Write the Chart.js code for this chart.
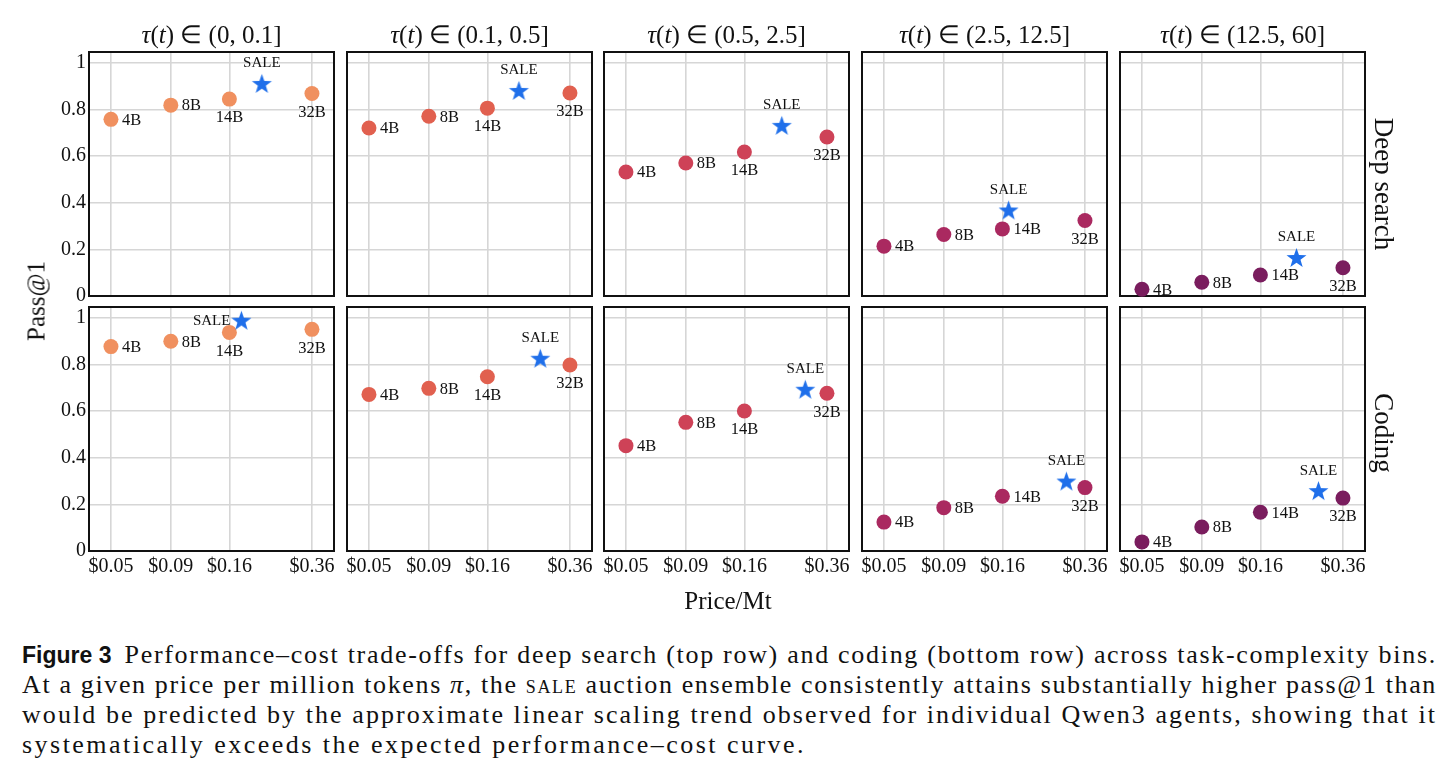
<!DOCTYPE html>
<html>
<head>
<meta charset="utf-8">
<script src="https://cdn.jsdelivr.net/npm/chart.js@4.4.0/dist/chart.umd.min.js"></script>
<style>
  body { margin: 0; background: #fff; width: 1453px; height: 778px; overflow: hidden; position: relative; font-family: "Liberation Serif", serif; color: #111; }
  canvas { position: absolute; }
  .lbl { position: absolute; transform: translate(-50%, -50%); white-space: nowrap; line-height: 1; }
  .title { font-size: 25px; }
  .axis { font-size: 25px; }
  .row { font-size: 27px; }
  #caption { position: absolute; left: 22px; top: 640px; width: 1415px; font-family: "Liberation Serif", serif; font-size: 26px; line-height: 30px; }
  #caption div { white-space: nowrap; }
  #caption b { font-family: "Liberation Sans", sans-serif; font-size: 23px; letter-spacing: 0; margin-right: 13px; }
  .sc { font-variant: small-caps; }
</style>
</head>
<body>
<div id="caption">
  <div data-w="1415"><b>Figure 3</b><span class="line">Performance–cost trade-offs for deep search (top row) and coding (bottom row) across task-complexity bins.</span></div>
  <div data-w="1415"><span class="line">At a given price per million tokens <i>π</i>, the <span class="sc">sale</span> auction ensemble consistently attains substantially higher pass@1 than</span></div>
  <div data-w="1415"><span class="line">would be predicted by the approximate linear scaling trend observed for individual Qwen3 agents, showing that it</span></div>
  <div data-w="784"><span class="line">systematically exceeds the expected performance–cost curve.</span></div>
</div>
<script>
// model prices ($ per million tokens) and names
const prices = [0.05, 0.09, 0.16, 0.36];
const sizes = ['4B', '8B', '14B', '32B'];
const bins = ['(0, 0.1]', '(0.1, 0.5]', '(0.5, 2.5]', '(2.5, 12.5]', '(12.5, 60]'];
const tasks = ['Deep search', 'Coding'];
const yTicks = [0, 0.2, 0.4, 0.6, 0.8, 1];

// pass@1 per complexity bin, one row per bin, one value per model size
const deepSearch = [
  [0.758, 0.819, 0.845, 0.869],
  [0.721, 0.771, 0.806, 0.871],
  [0.532, 0.571, 0.618, 0.682],
  [0.214, 0.264, 0.288, 0.324],
  [0.029, 0.059, 0.090, 0.121]
];
const deepSearchSale = [0.908, 0.878, 0.728, 0.365, 0.161];
const deepSearchSalePrice = [0.22, 0.218, 0.231, 0.17, 0.228];

const coding = [
  [0.877, 0.900, 0.938, 0.951],
  [0.672, 0.698, 0.748, 0.798],
  [0.452, 0.552, 0.601, 0.677],
  [0.124, 0.186, 0.235, 0.272],
  [0.039, 0.103, 0.166, 0.227]
];
const codingSale = [0.986, 0.823, 0.690, 0.296, 0.255];
const codingSalePrice = [0.18, 0.269, 0.291, 0.30, 0.283];

// look
const binColors = ['#F0905F', '#E1604F', '#CE4257', '#AA2960', '#7A1D5E'];
const saleColor = '#1F6FEA';
const gridColor = '#D6D6D6';
const X_MIN = 0.0403, X_MAX = 0.447, Y_MAX = 1.047;

// layout
const colLeft = [89, 347, 604, 862, 1120];
const rowTop = [52, 307];
const PW = 245, PH = 244;
const AX_L = 45, AX_B = 35, PAD_T = 30, PAD_R = 30;

// where each point label sits relative to its marker
const modelSide = [
  ['r', 'r', 'b', 'b'], ['r', 'r', 'b', 'b'], ['r', 'r', 'b', 'b'],
  ['r', 'r', 'r', 'b'], ['r', 'r', 'r', 'b']
];

function starMarker(r, color) {
  const c = document.createElement('canvas');
  const s = Math.ceil(r * 2 + 2);
  c.width = c.height = s;
  const g = c.getContext('2d');
  g.fillStyle = color;
  g.beginPath();
  for (let k = 0; k < 10; k++) {
    const rad = k % 2 ? r * 0.4 : r;
    const a = -Math.PI / 2 + k * Math.PI / 5;
    g.lineTo(s / 2 + rad * Math.cos(a), s / 2 + rad * Math.sin(a));
  }
  g.closePath();
  g.fill();
  return c;
}
const star = starMarker(10.5, saleColor);

const frame = {
  id: 'frame',
  beforeDatasetsDraw(chart) {
    const { ctx, chartArea: a } = chart;
    ctx.save();
    ctx.strokeStyle = '#111';
    ctx.lineWidth = 2;
    ctx.strokeRect(a.left, a.top, a.right - a.left, a.bottom - a.top);
    ctx.restore();
  }
};

const pointLabels = {
  id: 'pointLabels',
  afterDatasetsDraw(chart) {
    const ctx = chart.ctx;
    ctx.save();
    ctx.fillStyle = '#111';
    chart.data.datasets.forEach((ds, di) => {
      const meta = chart.getDatasetMeta(di);
      ctx.font = ds.labelFont;
      meta.data.forEach((pt, i) => {
        const side = ds.labelSides[i];
        const t = ds.pointNames[i];
        ctx.textBaseline = 'middle';
        if (side === 'r') { ctx.textAlign = 'left'; ctx.fillText(t, pt.x + 11, pt.y + 1); }
        else if (side === 'l') { ctx.textAlign = 'right'; ctx.fillText(t, pt.x - 11, pt.y); }
        else if (side === 'b') { ctx.textAlign = 'center'; ctx.fillText(t, pt.x, pt.y + 19); }
        else { ctx.textAlign = 'center'; ctx.fillText(t, pt.x, pt.y - 21); }
      });
    });
    ctx.restore();
  }
};

function addText(cls, html, x, y, rot) {
  const d = document.createElement('div');
  d.className = 'lbl ' + cls;
  d.innerHTML = html;
  d.style.left = x + 'px';
  d.style.top = y + 'px';
  if (rot) d.style.transform = 'translate(-50%, -50%) rotate(' + rot + 'deg)';
  document.body.appendChild(d);
}

function makePanel(row, col) {
  const vals = row === 0 ? deepSearch[col] : coding[col];
  const saleY = row === 0 ? deepSearchSale[col] : codingSale[col];
  const saleX = row === 0 ? deepSearchSalePrice[col] : codingSalePrice[col];

  const cv = document.createElement('canvas');
  cv.width = PW + AX_L + PAD_R;
  cv.height = PH + PAD_T + AX_B;
  cv.style.left = (colLeft[col] - AX_L) + 'px';
  cv.style.top = (rowTop[row] - PAD_T) + 'px';
  document.body.appendChild(cv);

  const tickFont = { family: 'Liberation Serif', size: 20 };

  new Chart(cv, {
    type: 'scatter',
    data: {
      datasets: [
        {
          data: [{ x: saleX, y: saleY }],
          pointStyle: star,
          pointRadius: 10,
          clip: false,
          pointNames: ['SALE'],
          labelSides: [row === 1 && col === 0 ? 'l' : 't'],
          labelFont: '15px "Liberation Serif"'
        },
        {
          data: prices.map((p, i) => ({ x: p, y: vals[i] })),
          backgroundColor: binColors[col],
          borderWidth: 0,
          pointRadius: 7.5,
          clip: false,
          pointNames: sizes,
          labelSides: modelSide[col],
          labelFont: '16.5px "Liberation Serif"'
        }
      ]
    },
    options: {
      responsive: false,
      animation: false,
      events: [],
      layout: { padding: { top: PAD_T, right: PAD_R, left: 0, bottom: 0 }, autoPadding: false },
      plugins: { legend: { display: false }, tooltip: { enabled: false } },
      scales: {
        x: {
          type: 'logarithmic',
          min: X_MIN,
          max: X_MAX,
          afterBuildTicks: ax => { ax.ticks = prices.map(v => ({ value: v })); },
          afterFit: ax => { ax.height = AX_B; },
          grid: { color: gridColor, lineWidth: 1.6, drawTicks: false },
          border: { display: false },
          ticks: {
            display: row === 1,
            padding: 4,
            font: tickFont,
            color: '#111',
            maxRotation: 0,
            autoSkip: false,
            callback: v => '$' + Number(v).toFixed(2)
          }
        },
        y: {
          min: 0,
          max: Y_MAX,
          afterBuildTicks: ax => { ax.ticks = yTicks.map(v => ({ value: v })); },
          afterFit: ax => { ax.width = AX_L; },
          grid: { color: gridColor, lineWidth: 1.6, drawTicks: false },
          border: { display: false },
          ticks: {
            display: col === 0,
            padding: 3,
            font: tickFont,
            color: '#111',
            callback: v => String(v)
          }
        }
      }
    },
    plugins: [frame, pointLabels]
  });
}

for (let r = 0; r < 2; r++) {
  for (let c = 0; c < 5; c++) makePanel(r, c);
}

bins.forEach((b, c) => {
  addText('title', '<i>τ</i>(<i>t</i>) ∈ ' + b, colLeft[c] + PW / 2, 34);
});
addText('row', tasks[0], 1383, 184, 90);
addText('row', tasks[1], 1383, 433, 90);
addText('axis', 'Pass@1', 36, 301, -90);
addText('axis', 'Price/Mt', 728, 600);

// stretch each caption line to the width it has in the figure
document.querySelectorAll('#caption div').forEach(d => {
  const span = d.querySelector('span.line');
  const b = d.querySelector('b');
  const target = Number(d.dataset.w) - (b ? b.getBoundingClientRect().width + 13 : 0);
  const w = span.getBoundingClientRect().width;
  const n = span.textContent.length;
  span.style.letterSpacing = ((target - w) / n) + 'px';
});
</script>
</body>
</html>
